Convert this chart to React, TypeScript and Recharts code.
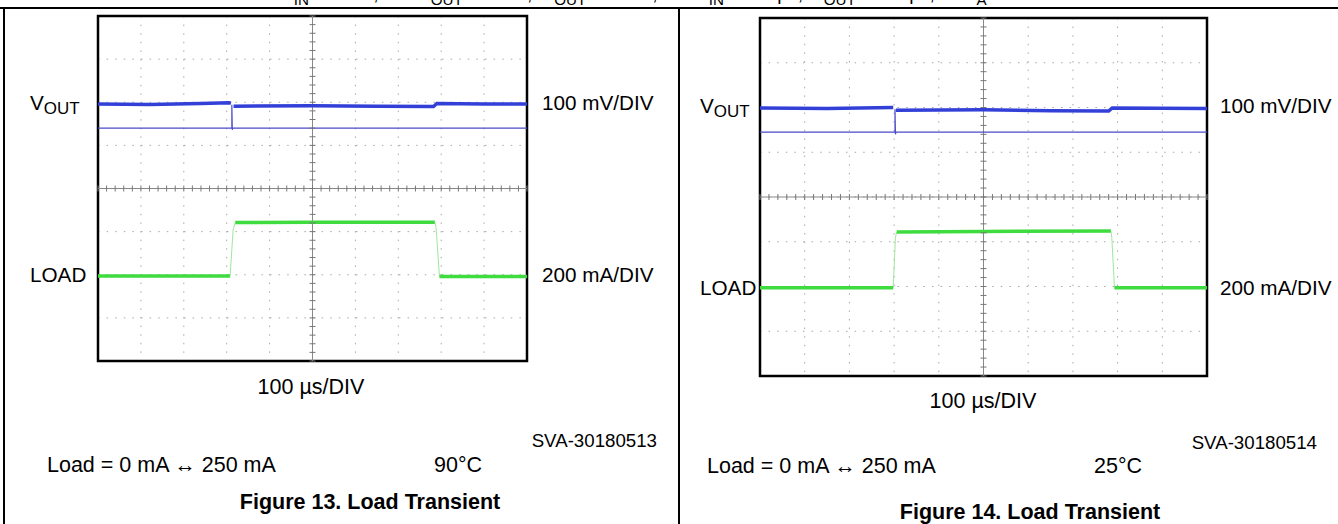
import React from 'react'
import {
  LineChart,
  Line,
  XAxis,
  YAxis,
  CartesianGrid,
  ReferenceLine,
  ReferenceArea,
  Scatter,
} from 'recharts'

// scope screen: 10 horizontal divisions, 8 vertical (center = 0)
const xTicks = [0, 1, 2, 3, 4, 5, 6, 7, 8, 9, 10]
const yTicks = [-4, -3, -2, -1, 0, 1, 2, 3, 4]
const minorX = Array.from({ length: 51 }, (_, i) => ({ x: i * 0.2, y: 0 }))
const minorY = Array.from({ length: 41 }, (_, i) => ({ x: 5, y: -4 + i * 0.2 }))

// Figure 13 (90°C) - values in divisions
const vout13 = [
  { x: 0, y: 1.96 }, { x: 1.2, y: 1.95 }, { x: 2.4, y: 1.97 }, { x: 3.05, y: 1.99 }, { x: 3.1, y: 1.98 },
  { x: 3.13, y: null }, { x: 3.16, y: 1.91 }, { x: 5, y: 1.92 }, { x: 6.5, y: 1.91 }, { x: 7.82, y: 1.9 },
  { x: 7.9, y: 1.97 }, { x: 9, y: 1.96 }, { x: 10, y: 1.96 },
]
const base13 = [
  { x: 0, y: 1.4 }, { x: 3.12, y: 1.4 }, { x: 3.12, y: 1.94 }, { x: 3.13, y: 1.36 }, { x: 3.14, y: 1.4 }, { x: 10, y: 1.4 },
]
const load13 = [
  { x: 0, y: -2.03 }, { x: 3.08, y: -2.03 }, { x: 3.12, y: null }, { x: 3.2, y: -0.79 },
  { x: 5, y: -0.78 }, { x: 7.85, y: -0.78 }, { x: 7.9, y: null }, { x: 7.96, y: -2.04 }, { x: 10, y: -2.04 },
]
const edge13 = [
  { x: 0, y: -2.03 }, { x: 3.08, y: -2.03 }, { x: 3.15, y: -0.95 }, { x: 3.2, y: -0.79 },
  { x: 7.85, y: -0.78 }, { x: 7.88, y: -0.9 }, { x: 7.96, y: -2.04 }, { x: 10, y: -2.04 },
]

// Figure 14 (25°C)
const vout14 = [
  { x: 0, y: 1.99 }, { x: 1.5, y: 1.98 }, { x: 2.98, y: 2.0 }, { x: 3.0, y: null }, { x: 3.04, y: 1.94 },
  { x: 5, y: 1.95 }, { x: 6.5, y: 1.93 }, { x: 7.8, y: 1.92 }, { x: 7.88, y: 1.99 }, { x: 10, y: 1.98 },
]
const base14 = [
  { x: 0, y: 1.45 }, { x: 3.02, y: 1.45 }, { x: 3.02, y: 1.96 }, { x: 3.03, y: 1.4 }, { x: 3.04, y: 1.45 }, { x: 10, y: 1.45 },
]
const load14 = [
  { x: 0, y: -2.03 }, { x: 2.98, y: -2.03 }, { x: 3.02, y: null }, { x: 3.06, y: -0.78 },
  { x: 5, y: -0.77 }, { x: 7.85, y: -0.76 }, { x: 7.88, y: null }, { x: 7.93, y: -2.03 }, { x: 10, y: -2.03 },
]
const edge14 = [
  { x: 0, y: -2.03 }, { x: 2.98, y: -2.03 }, { x: 3.03, y: -0.9 }, { x: 3.06, y: -0.78 },
  { x: 7.85, y: -0.76 }, { x: 7.87, y: -0.9 }, { x: 7.93, y: -2.03 }, { x: 10, y: -2.03 },
]

// test conditions line, clipped at the top of the page
const condLetters = ['V', 'V', 'I', 'C', 'C', 'T']
const condSubs = ['IN', 'OUT', 'OUT', 'IN', 'OUT', 'A']
const condRest = [' = 3.8 V,', ' = 2.8 V,', ' = 1 mA,', ' = 2.2 µF,', ' = 2.2 µF,', '']
// x positions where each piece of the clipped header line starts
const condX = [281, 418, 549, 695, 810, 965]

const FONT = '"Liberation Sans", Arial, sans-serif'

function Txt({ x, y, children, anchor = 'start', size = 20.7, bold = false }: any) {
  const tx = anchor === 'middle' ? '-50%' : anchor === 'end' ? '-100%' : '0'
  return (
    <div
      style={{
        position: 'absolute',
        left: x,
        top: y,
        transform: `translate(${tx}, -50%)`,
        fontFamily: FONT,
        fontSize: size,
        fontWeight: bold ? 'bold' : 'normal',
        whiteSpace: 'nowrap',
        lineHeight: 1,
        color: '#000',
      }}
    >
      {children}
    </div>
  )
}

const tickH = (p: any) => <line x1={p.cx} x2={p.cx} y1={p.cy - 3} y2={p.cy + 3} stroke="#777" strokeWidth={1} />
const tickV = (p: any) => <line x1={p.cx - 3} x2={p.cx + 3} y1={p.cy} y2={p.cy} stroke="#777" strokeWidth={1} />

function Scope({ left, top, width, height, vout, base, load, edge }: any) {
  const m = 5
  return (
    <div style={{ position: 'absolute', left: left - m, top: top - m }}>
      <LineChart width={width + 2 * m} height={height + 2 * m} margin={{ top: m, right: m, bottom: m, left: m }}>
        <XAxis type="number" dataKey="x" domain={[0, 10]} ticks={xTicks} hide />
        <YAxis type="number" dataKey="y" domain={[-4, 4]} ticks={yTicks} hide />
        <CartesianGrid stroke="#a8a8a8" strokeDasharray="1.5 7.1" />
        <ReferenceLine x={5} stroke="#888" />
        <ReferenceLine y={0} stroke="#888" />
        <Scatter data={minorX} dataKey="y" shape={tickH} isAnimationActive={false} />
        <Scatter data={minorY} dataKey="y" shape={tickV} isAnimationActive={false} />
        <Line data={base} dataKey="y" stroke="#4b4bc8" strokeWidth={1.2} dot={false} isAnimationActive={false} />
        <Line data={vout} dataKey="y" stroke="#3340d8" strokeWidth={3.5} dot={false} isAnimationActive={false} />
        <Line data={edge} dataKey="y" stroke="#9ee69e" strokeWidth={1} dot={false} isAnimationActive={false} />
        <Line data={load} dataKey="y" stroke="#3fdc3f" strokeWidth={3.5} dot={false} isAnimationActive={false} />
        <ReferenceArea x1={0} x2={10} y1={-4} y2={4} fill="none" stroke="#000" strokeWidth={2.5} ifOverflow="visible" />
      </LineChart>
    </div>
  )
}

const Vout = () => (
  <span>
    V<span style={{ fontSize: '0.82em', position: 'relative', top: '0.25em' }}>OUT</span>
  </span>
)

export default function App() {
  return (
    <div style={{ position: 'absolute', left: 0, top: 0, width: 1338, height: 524, background: '#fff', overflow: 'hidden' }}>
      {/* cut-off conditions line */}
      <div style={{ position: 'absolute', left: 0, top: 0, width: 1338, height: 7, overflow: 'hidden' }}>
        {condSubs.map((s, i) => (
          <div key={i} style={{ position: 'absolute', left: condX[i], top: -17, fontFamily: FONT, fontSize: 19, whiteSpace: 'nowrap' }}>
            {condLetters[i]}
            <sub style={{ fontSize: '0.8em' }}>{s}</sub>
            {condRest[i]}
          </div>
        ))}
      </div>
      <div style={{ position: 'absolute', left: 0, top: 7, width: 1338, height: 1.5, background: '#000' }} />
      <div style={{ position: 'absolute', left: 3, top: 7, width: 1.5, height: 517, background: '#000' }} />
      <div style={{ position: 'absolute', left: 678, top: 7, width: 1.5, height: 517, background: '#000' }} />

      <Scope left={98} top={16} width={429} height={345} vout={vout13} base={base13} load={load13} edge={edge13} />
      <Txt x={30} y={103}><Vout /></Txt>
      <Txt x={542} y={103}>100 mV/DIV</Txt>
      <Txt x={30} y={275}>LOAD</Txt>
      <Txt x={542} y={275}>200 mA/DIV</Txt>
      <Txt x={311} y={388} anchor="middle" size={21.5}>100 µs/DIV</Txt>
      <Txt x={657} y={441} anchor="end" size={18.7}>SVA-30180513</Txt>
      <Txt x={47} y={466} size={21.5}>Load = 0 mA ↔ 250 mA</Txt>
      <Txt x={434} y={466} size={21.5}>90°C</Txt>
      <Txt x={370} y={503} anchor="middle" size={21.5} bold>Figure 13. Load Transient</Txt>

      <Scope left={760} top={18} width={447} height={358} vout={vout14} base={base14} load={load14} edge={edge14} />
      <Txt x={700} y={106}><Vout /></Txt>
      <Txt x={1220} y={106}>100 mV/DIV</Txt>
      <Txt x={700} y={288}>LOAD</Txt>
      <Txt x={1220} y={288}>200 mA/DIV</Txt>
      <Txt x={983} y={402} anchor="middle" size={21.5}>100 µs/DIV</Txt>
      <Txt x={1317} y={443} anchor="end" size={18.7}>SVA-30180514</Txt>
      <Txt x={707} y={467} size={21.5}>Load = 0 mA ↔ 250 mA</Txt>
      <Txt x={1094} y={467} size={21.5}>25°C</Txt>
      <Txt x={1030} y={513} anchor="middle" size={21.5} bold>Figure 14. Load Transient</Txt>
    </div>
  )
}
